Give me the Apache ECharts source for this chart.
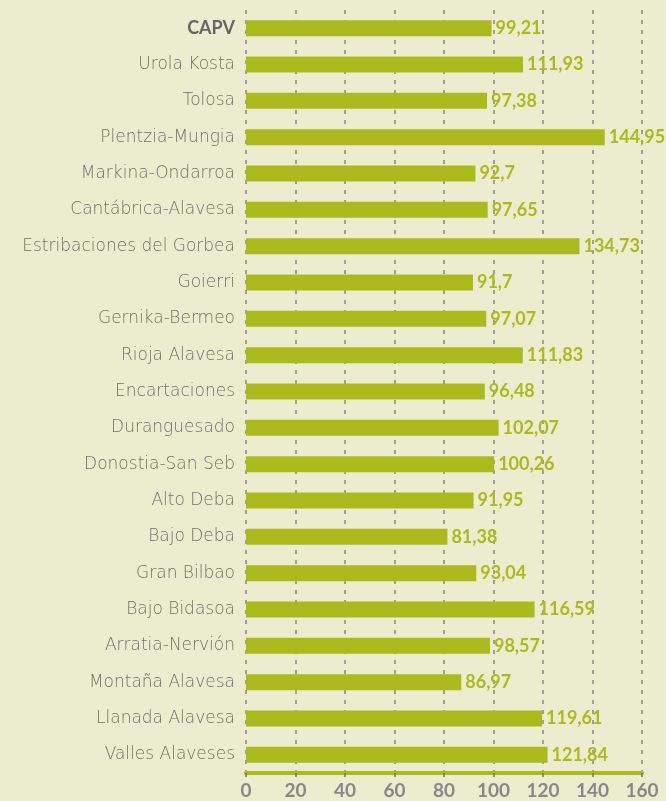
<!DOCTYPE html>
<html lang="es">
<head>
<meta charset="UTF-8">
<title>CAPV</title>
<script src="https://cdn.jsdelivr.net/npm/echarts@6/dist/echarts.min.js"></script>
<style>
    body { margin: 0; padding: 0; background: #ececcf; overflow: hidden; }
    #echart { width: 666px; height: 801px; }
</style>
</head>
<body>
<div id="echart"></div>
<script>
const comarcas = ['CAPV', 'Urola Kosta', 'Tolosa', 'Plentzia-Mungia', 'Markina-Ondarroa',
    'Cantábrica-Alavesa', 'Estribaciones del Gorbea', 'Goierri', 'Gernika-Bermeo', 'Rioja Alavesa',
    'Encartaciones', 'Duranguesado', 'Donostia-San Seb', 'Alto Deba', 'Bajo Deba', 'Gran Bilbao',
    'Bajo Bidasoa', 'Arratia-Nervión', 'Montaña Alavesa', 'Llanada Alavesa', 'Valles Alaveses'];
const valores = [99.21, 111.93, 97.38, 144.95, 92.7, 97.65, 134.73, 91.7, 97.07, 111.83,
    96.48, 102.07, 100.26, 91.95, 81.38, 93.04, 116.59, 98.57, 86.97, 119.61, 121.84];

const green = '#adba1e';
const gray = '#707070';

let ec = echarts.init(document.getElementById('echart'));
ec.setOption({
    backgroundColor: '#ececcf',
    animation: false,
    grid: { left: 246, right: 24, top: 10, bottom: 28 },
    xAxis: {
        type: 'value',
        min: 0,
        max: 160,
        interval: 20,
        axisLine: { show: true, lineStyle: { color: green, width: 4 } },
        axisTick: { show: true, length: 4, lineStyle: { color: gray, width: 1.5 } },
        axisLabel: {
            color: '#888',
            fontFamily: 'Lato',
            fontWeight: 'bold',
            fontSize: 19,
            margin: 8
        },
        splitLine: { show: true, lineStyle: { color: '#858585', type: [4, 6], width: 1.5 } }
    },
    yAxis: {
        type: 'category',
        inverse: true,
        data: comarcas,
        axisLine: { show: false },
        axisTick: { show: false },
        axisLabel: {
            margin: 11,
            color: gray,
            fontFamily: 'DejaVu Sans',
            fontWeight: 200,
            fontSize: 17,
            formatter: v => v === 'CAPV' ? '{b|' + v + '}' : v,
            rich: {
                b: { color: '#666', fontFamily: 'Lato', fontWeight: 'bold', fontSize: 18 }
            }
        }
    },
    series: [{
        type: 'bar',
        data: valores,
        barWidth: 16,
        itemStyle: { color: green },
        label: {
            show: true,
            position: 'right',
            distance: 4,
            color: green,
            fontFamily: 'Lato',
            fontWeight: 'bold',
            fontSize: 18,
            formatter: p => String(p.value).replace('.', ',')
        }
    }]
});
</script>
</body>
</html>
